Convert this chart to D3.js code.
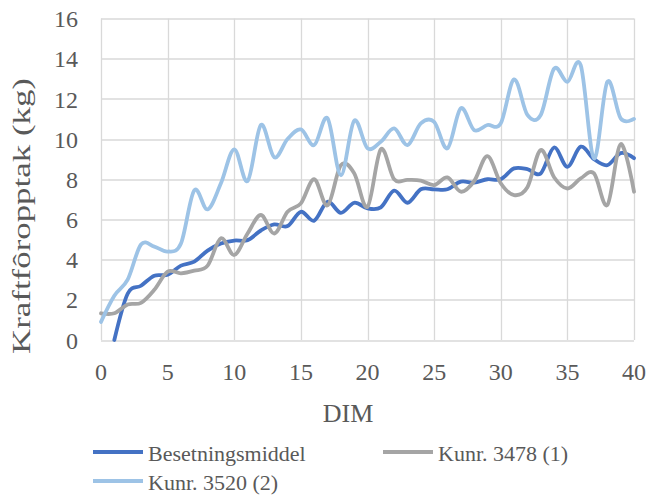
<!DOCTYPE html>
<html>
<head>
<meta charset="utf-8">
<script src="https://cdn.jsdelivr.net/npm/d3@7"></script>
<style>
  body { margin: 0; background: #fff; }
  text { font-family: "Liberation Serif", "Times New Roman", serif; fill: #595959; }
</style>
</head>
<body>
<div id="chart"></div>
<script>
// DIM 0..40
var dim = d3.range(0, 41);

// series values (kg)
var besetning = [null, 0, 2.3, 2.7, 3.2, 3.25, 3.7, 3.9, 4.45, 4.8, 4.95,
  4.97, 5.45, 5.75, 5.67, 6.38, 5.94, 6.88, 6.33, 6.83, 6.55,
  6.6, 7.43, 6.83, 7.5, 7.5, 7.5, 7.88, 7.83, 8.0, 8.0,
  8.54, 8.5, 8.29, 9.58, 8.62, 9.62, 9.0, 8.7, 9.3, 9.05];

var kunr3478 = [1.33, 1.33, 1.77, 1.85, 2.5, 3.4, 3.32, 3.45, 3.7, 5.06, 4.23,
  5.3, 6.22, 5.3, 6.38, 6.8, 8.0, 6.7, 8.7, 8.3, 6.63,
  9.49, 8.0, 7.97, 7.93, 7.71, 8.09, 7.38, 7.9, 9.15, 7.8,
  7.21, 7.6, 9.45, 8.1, 7.54, 8.04, 8.29, 6.72, 9.75, 7.38];

var kunr3520 = [0.9, 2.2, 3.0, 4.75, 4.65, 4.4, 4.8, 7.45, 6.5, 7.8, 9.49,
  7.91, 10.7, 9.09, 10.0, 10.48, 9.7, 11.03, 8.2, 10.91, 9.54,
  9.87, 10.53, 9.7, 10.78, 10.86, 9.54, 11.53, 10.45, 10.7, 10.78,
  12.97, 11.2, 11.2, 13.5, 12.85, 13.68, 9.04, 12.85, 11.03, 11.0];

var seriesNames = ["Besetningsmiddel", "Kunr. 3478 (1)", "Kunr. 3520 (2)"];
var seriesColors = ["#4472C4", "#A5A5A5", "#9DC3E6"];
var xTicks = [0, 5, 10, 15, 20, 25, 30, 35, 40];
var yTicks = [0, 2, 4, 6, 8, 10, 12, 14, 16];

var series = [besetning, kunr3478, kunr3520].map(function(vals, i) {
  return {
    name: seriesNames[i],
    color: seriesColors[i],
    values: dim.map(function(d, j) { return {x: d, y: vals[j]}; })
  };
});

var W = 650, H = 497;
var margin = {top: 18.5, right: 16, bottom: 157, left: 101};
var width = W - margin.left - margin.right,
    height = H - margin.top - margin.bottom;

var svg = d3.select("#chart").append("svg")
  .attr("width", W)
  .attr("height", H);

var g = svg.append("g")
  .attr("transform", "translate(" + margin.left + "," + margin.top + ")");

var x = d3.scaleLinear().domain([0, 40]).range([0, width]);
var y = d3.scaleLinear().domain([0, 16]).range([height, 0]);

// gridlines
g.append("g")
  .selectAll("line.h")
  .data(yTicks)
  .join("line")
  .attr("x1", 0).attr("x2", width)
  .attr("y1", function(d) { return Math.round(y(d)) + 0.5; })
  .attr("y2", function(d) { return Math.round(y(d)) + 0.5; })
  .attr("stroke", "#d9d9d9").attr("stroke-width", 1.3);

g.append("g")
  .selectAll("line.v")
  .data(xTicks)
  .join("line")
  .attr("y1", 0).attr("y2", height)
  .attr("x1", function(d) { return Math.round(x(d)) + 0.5; })
  .attr("x2", function(d) { return Math.round(x(d)) + 0.5; })
  .attr("stroke", "#d9d9d9").attr("stroke-width", 1.3);

// tick labels
g.append("g")
  .selectAll("text")
  .data(yTicks)
  .join("text")
  .attr("x", -23)
  .attr("y", function(d) { return y(d); })
  .attr("dy", "0.36em")
  .attr("text-anchor", "end")
  .style("font-size", "24px")
  .text(function(d) { return d; });

g.append("g")
  .selectAll("text")
  .data(xTicks)
  .join("text")
  .attr("x", function(d) { return x(d); })
  .attr("y", height + 40)
  .attr("text-anchor", "middle")
  .style("font-size", "24px")
  .text(function(d) { return d; });

// lines
var line = d3.line()
  .defined(function(d) { return d.y != null; })
  .x(function(d) { return x(d.x); })
  .y(function(d) { return y(d.y); })
  .curve(d3.curveCardinal.tension(0));

g.selectAll("path.series")
  .data(series)
  .join("path")
  .attr("class", "series")
  .attr("fill", "none")
  .attr("stroke", function(d) { return d.color; })
  .attr("stroke-width", 3.8)
  .attr("stroke-linejoin", "round")
  .attr("stroke-linecap", "round")
  .attr("d", function(d) { return line(d.values); });

// axis titles
svg.append("text")
  .attr("x", 348)
  .attr("y", 422)
  .attr("text-anchor", "middle")
  .style("font-size", "26px")
  .text("DIM");

svg.append("text")
  .attr("transform", "translate(30,216) rotate(-90)")
  .attr("text-anchor", "middle")
  .attr("textLength", 276)
  .attr("lengthAdjust", "spacingAndGlyphs")
  .style("font-size", "26px")
  .text("Kraftfôropptak (kg)");

// legend
var legendPos = [[93, 452], [383, 452], [93, 481]];
var legend = svg.append("g")
  .selectAll("g")
  .data(series)
  .join("g")
  .attr("transform", function(d, i) { return "translate(" + legendPos[i][0] + "," + legendPos[i][1] + ")"; });

legend.append("line")
  .attr("x1", 0).attr("x2", 50)
  .attr("y1", 0).attr("y2", 0)
  .attr("stroke", function(d) { return d.color; })
  .attr("stroke-width", 3.8);

legend.append("text")
  .attr("x", 55)
  .attr("y", 8.5)
  .style("font-size", "22px")
  .text(function(d) { return d.name; });
</script>
</body>
</html>
